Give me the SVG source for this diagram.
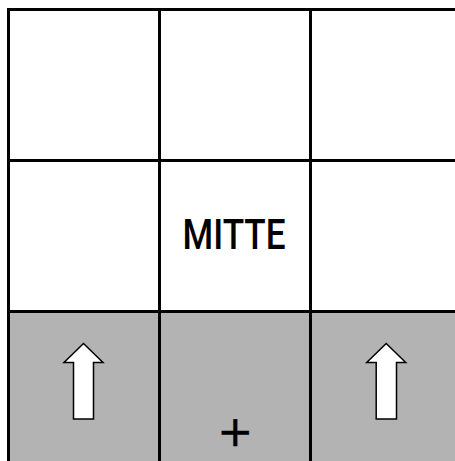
<svg xmlns="http://www.w3.org/2000/svg" width="455" height="461" viewBox="0 0 455 461">
<style>
.cell{fill:#ffffff;stroke:#000000;stroke-width:3}
.gray{fill:#b3b3b3}
.arrow{fill:#ffffff;stroke:#000000;stroke-width:1.5;stroke-linejoin:miter}
.lbl{font-family:Roboto,"Liberation Sans",Arial,sans-serif;font-weight:500;font-size:42px;fill:#000000;text-anchor:middle}
.plus{font-family:"DejaVu Sans",sans-serif;font-size:43px;fill:#000000;text-anchor:middle}
</style>
<rect width="455" height="461" fill="#ffffff"/>
<g id="cell-r1c1"><rect class="cell" x="8.5" y="9.5" width="151" height="151"/></g>
<g id="cell-r1c2"><rect class="cell" x="159.5" y="9.5" width="151" height="151"/></g>
<g id="cell-r1c3"><rect class="cell" x="310.5" y="9.5" width="151" height="151"/></g>
<g id="cell-r2c1"><rect class="cell" x="8.5" y="160.5" width="151" height="151"/></g>
<g id="cell-r2c2"><rect class="cell" x="159.5" y="160.5" width="151" height="151"/>
<text class="lbl" x="234" y="249.3" textLength="103" lengthAdjust="spacingAndGlyphs">MITTE</text></g>
<g id="cell-r2c3"><rect class="cell" x="310.5" y="160.5" width="151" height="151"/></g>
<g id="cell-r3c1"><rect class="cell gray" x="8.5" y="311.5" width="151" height="151"/>
<path class="arrow" d="M83.5,343.5 L103,362.5 L93.5,362.5 L93.5,419 L73.5,419 L73.5,362.5 L64,362.5 Z"/></g>
<g id="cell-r3c2"><rect class="cell gray" x="159.5" y="311.5" width="151" height="151"/>
<text class="plus" x="235.3" y="446" stroke="#000000" stroke-width="0.5">+</text></g>
<g id="cell-r3c3"><rect class="cell gray" x="310.5" y="311.5" width="151" height="151"/>
<path class="arrow" d="M386.2,343.5 L405.7,362.5 L396.5,362.5 L396.5,419 L376.2,419 L376.2,362.5 L366.7,362.5 Z"/></g>
<g id="connectors"></g>
</svg>
